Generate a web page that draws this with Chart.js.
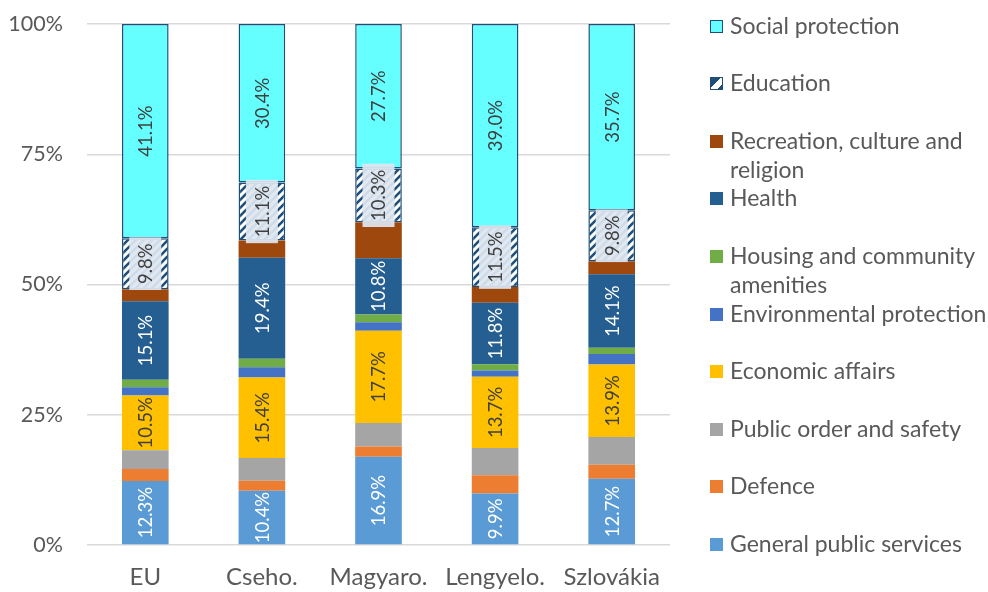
<!DOCTYPE html>
<html>
<head>
<meta charset="utf-8">
<script src="https://cdn.jsdelivr.net/npm/chart.js@4.4.0/dist/chart.umd.min.js"></script>
<style>
  body { margin: 0; background: #fff; font-family: Lato, sans-serif; }
  #wrap { position: relative; width: 988px; height: 592px; }
  .item { position: absolute; left: 710px; display: flex; align-items: flex-start;
          color: #595959; font-size: 23px; line-height: 29px; white-space: nowrap; }
  .swatch { width: 13px; height: 13px; margin-top: 9px; margin-right: 7px; box-sizing: border-box; flex: none; }
</style>
</head>
<body>
<div id="wrap">
  <canvas id="spendingChart" width="988" height="592"></canvas>
  <div id="legend"></div>
</div>
<script>
// ---------------- data ----------------
const categories = ["EU", "Cseho.", "Magyaro.", "Lengyelo.", "Szlovákia"];
const generalPublicServices = [12.3, 10.4, 16.9, 9.9, 12.7];
const defence = [2.3, 1.9, 2.0, 3.5, 2.7];
const publicOrder = [3.6, 4.4, 4.5, 5.2, 5.3];
const economicAffairs = [10.5, 15.4, 17.7, 13.7, 13.9];
const environmentalProtection = [1.6, 2.0, 1.6, 1.2, 2.0];
const housing = [1.4, 1.6, 1.5, 1.2, 1.2];
const health = [15.1, 19.4, 10.8, 11.8, 14.1];
const recreation = [2.3, 3.3, 6.9, 3.0, 2.5];
const education = [9.8, 11.1, 10.3, 11.5, 9.8];
const socialProtection = [41.1, 30.4, 27.7, 39.0, 35.7];
const yTicks = [0, 25, 50, 75, 100];

const navy = "#1f4e79";
const FONT = "Lato, sans-serif";

// hatch for Education (navy "/" stripes on white)
function makeHatch() {
  const c = document.createElement("canvas");
  c.width = 8; c.height = 8;
  const g = c.getContext("2d");
  g.fillStyle = "#fff";
  g.fillRect(0, 0, 8, 8);
  g.strokeStyle = navy;
  g.lineWidth = 2.6;
  g.beginPath();
  g.moveTo(-4, 4); g.lineTo(4, -4);
  g.moveTo(0, 8); g.lineTo(8, 0);
  g.moveTo(4, 12); g.lineTo(12, 4);
  g.stroke();
  return document.getElementById("spendingChart").getContext("2d").createPattern(c, "repeat");
}

const series = [
  { label: "General public services", data: generalPublicServices, color: "#5b9bd5", labelColor: "#fff" },
  { label: "Defence", data: defence, color: "#ed7d31" },
  { label: "Public order and safety", data: publicOrder, color: "#a5a5a5" },
  { label: "Economic affairs", data: economicAffairs, color: "#ffc000", labelColor: "#404040" },
  { label: "Environmental protection", data: environmentalProtection, color: "#4472c4" },
  { label: ["Housing and community", "amenities"], data: housing, color: "#70ad47" },
  { label: "Health", data: health, color: "#255e91", labelColor: "#fff" },
  { label: ["Recreation, culture and", "religion"], data: recreation, color: "#9e480e" },
  { label: "Education", data: education, color: makeHatch(), border: navy, labelColor: "#404040", labelBox: "rgba(222,230,240,0.93)" },
  { label: "Social protection", data: socialProtection, color: "#66ffff", border: navy, labelColor: "#404040" },
];

// 100% stacked: each category scaled to its total
const totals = categories.map((_, i) => series.reduce((s, d) => s + d.data[i], 0));

const datasets = series.map((s) => ({
  label: Array.isArray(s.label) ? s.label.join(" ") : s.label,
  data: s.data.map((v, i) => (v / totals[i]) * 100),
  raw: s.data,
  backgroundColor: s.color,
  borderColor: s.border || s.color,
  borderWidth: s.border ? 1.5 : 0,
  borderSkipped: false,
  labelColor: s.labelColor,
  labelBox: s.labelBox,
  barPercentage: 0.4,
  categoryPercentage: 1.0,
}));

// rotated value labels inside the bars
const barLabels = {
  id: "barLabels",
  afterDatasetsDraw(chart) {
    const ctx = chart.ctx;
    chart.data.datasets.forEach((ds, di) => {
      if (!ds.labelColor) return;
      chart.getDatasetMeta(di).data.forEach((bar, i) => {
        const txt = ds.raw[i].toFixed(1) + "%";
        ctx.save();
        ctx.translate(bar.x, (bar.y + bar.base) / 2);
        ctx.rotate(-Math.PI / 2);
        ctx.font = "18.5px " + FONT;
        const w = ctx.measureText(txt).width;
        if (ds.labelBox) {
          ctx.fillStyle = ds.labelBox;
          ctx.fillRect(-w / 2 - 6, -16, w + 12, 32);
        }
        ctx.fillStyle = ds.labelColor;
        ctx.textAlign = "center";
        ctx.textBaseline = "middle";
        ctx.fillText(txt, 0, 1);
        ctx.restore();
      });
    });
  },
};

const chart = new Chart(document.getElementById("spendingChart"), {
  type: "bar",
  data: { labels: categories, datasets: datasets },
  options: {
    responsive: false,
    animation: false,
    layout: { padding: { top: 24, right: 318, left: 0, bottom: 0 } },
    scales: {
      x: {
        stacked: true,
        grid: { display: false },
        border: { display: false },
        ticks: { color: "#595959", font: { family: FONT, size: 24 }, padding: 10 },
        afterFit: (s) => { s.height = 47; },
      },
      y: {
        stacked: true,
        min: 0,
        max: 100,
        afterBuildTicks: (s) => { s.ticks = yTicks.map((v) => ({ value: v })); },
        grid: { color: "#d9d9d9", lineWidth: 1.5, drawTicks: false },
        border: { display: false },
        ticks: {
          color: "#595959",
          font: { family: FONT, size: 21.5 },
          padding: 24,
          callback: (v) => v + "%",
        },
        afterFit: (s) => {
          s.width = 87;
          s.paddingTop = 0;
          s.paddingBottom = 0;
        },
      },
    },
    plugins: {
      legend: { display: false },
      tooltip: { enabled: false },
    },
  },
  plugins: [barLabels],
});

// -------- legend (top item = top of stack) --------
const legend = document.getElementById("legend");
series.slice().reverse().forEach((s, i) => {
  const item = document.createElement("div");
  item.className = "item";
  item.style.top = (25 + i * 57.6 - 14.5) + "px";
  const sw = document.createElement("div");
  sw.className = "swatch";
  if (s.label === "Education") {
    sw.style.border = "1px solid " + navy;
    sw.style.background = "linear-gradient(135deg, " + navy + " 42%, #fff 42%, #fff 78%, " + navy + " 78%)";
  } else if (s.border) {
    sw.style.border = "1px solid " + navy;
    sw.style.background = s.color;
  } else {
    sw.style.background = s.color;
  }
  const txt = document.createElement("div");
  txt.innerHTML = [].concat(s.label).join("<br>");
  item.appendChild(sw);
  item.appendChild(txt);
  legend.appendChild(item);
});
</script>
</body>
</html>
